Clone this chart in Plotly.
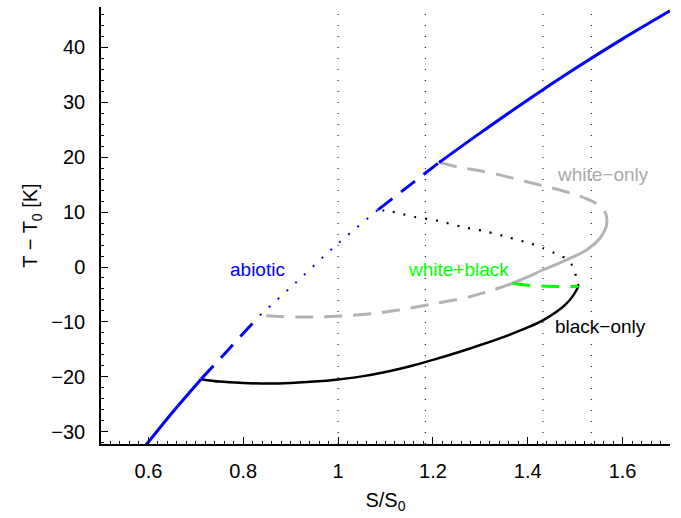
import plotly.graph_objects as go

# ---------------- data ----------------
abiotic_S = [0.59, 0.65, 0.711, 0.77, 0.835, 0.9, 1.0, 1.084, 1.15, 1.213, 1.3, 1.4, 1.5, 1.6, 1.7]
abiotic_T = [-32.9, -26.5, -20.4, -14.9, -8.8, -3.7, 4.3, 10.4, 14.8, 19.0, 24.4, 30.4, 36.1, 41.5, 46.6]
# stability of the abiotic branch between break points
abiotic_breaks = [0.59, 0.711, 0.835, 1.084, 1.213, 1.7]
abiotic_kinds = ["stable", "saddle", "unstable", "saddle", "stable"]

white_upper_S = [1.213, 1.253, 1.30, 1.334, 1.398, 1.45, 1.503, 1.535, 1.556, 1.565, 1.567]
white_upper_T = [19.0, 18.2, 17.5, 16.9, 15.5, 14.4, 13.1, 12.0, 10.9, 9.6, 8.5]
white_stable_S = [1.567, 1.566, 1.560, 1.552, 1.524, 1.482, 1.433, 1.40, 1.368]
white_stable_T = [8.5, 7.5, 6.3, 5.2, 3.1, 1.3, -0.5, -1.8, -2.95]
white_lower_S = [1.368, 1.33, 1.278, 1.208, 1.15, 1.081, 1.03, 0.983, 0.93, 0.88, 0.835]
white_lower_T = [-2.95, -4.1, -5.4, -6.6, -7.5, -8.4, -8.8, -9.0, -9.1, -9.0, -8.8]

black_stable_S = [0.711, 0.75, 0.80, 0.85, 0.90, 0.95, 1.00, 1.05, 1.10, 1.15, 1.20, 1.25, 1.30, 1.35, 1.40, 1.43, 1.46, 1.48, 1.495, 1.507]
black_stable_T = [-20.4, -20.85, -21.1, -21.2, -21.1, -20.85, -20.45, -19.9, -19.1, -18.1, -16.9, -15.6, -14.2, -12.7, -11.0, -9.8, -8.2, -6.8, -5.3, -3.5]
black_unstable_S = [1.507, 1.502, 1.496, 1.479, 1.455, 1.433, 1.408, 1.359, 1.310, 1.261, 1.211, 1.162, 1.137, 1.112, 1.084]
black_unstable_T = [-3.5, -1.8, 0.0, 1.6, 2.6, 3.4, 4.2, 5.4, 6.5, 7.3, 8.4, 9.1, 9.6, 10.1, 10.4]

mixed_S = [1.368, 1.40, 1.45, 1.507]
mixed_T = [-2.95, -3.3, -3.55, -3.5]

vline_S = [1.0, 1.184, 1.432, 1.534]

labels = ["abiotic", "white+black", "white\u2212only", "black\u2212only"]
label_S = [0.831, 1.254, 1.559, 1.554]
label_T = [-0.5, -0.4, 16.9, -10.9]

x_range = [0.5, 1.7]
y_range = [-32.2, 47.3]

# ---------------- styles ----------------
BLUE = "#0000ff"
GRAY = "#b3b3b3"
GREEN = "#00ff00"
BLACK = "#000000"
FONT = "Liberation Sans, Arial, Helvetica, sans-serif"
DASH = "18px,11px"
DOT = "2px,10px"
kind_dash = {"stable": "solid", "saddle": DASH, "unstable": DOT}

fig = go.Figure()

# reference vertical dotted lines
for s in vline_S:
    fig.add_trace(go.Scatter(x=[s, s], y=y_range, mode="lines",
                             line=dict(color=BLACK, width=1, dash="1px,10px"),
                             hoverinfo="skip", showlegend=False))

def add_curve(xs, ys, color, dash, width=2.5):
    fig.add_trace(go.Scatter(x=xs, y=ys, mode="lines",
                             line=dict(color=color, width=width, dash=dash,
                                       shape="spline", smoothing=0.8),
                             showlegend=False))

# white-only branch
add_curve(white_upper_S, white_upper_T, GRAY, DASH, 3)
add_curve(white_stable_S, white_stable_T, GRAY, "solid", 3)
add_curve(white_lower_S, white_lower_T, GRAY, DASH, 3)

# black-only branch
add_curve(black_stable_S, black_stable_T, BLACK, "solid", 2.5)
add_curve(black_unstable_S, black_unstable_T, BLACK, "2px,9px", 2.2)

# mixed branch
add_curve(mixed_S, mixed_T, GREEN, DASH, 3)

# abiotic branch, split into stability segments
for i, kind in enumerate(abiotic_kinds):
    lo, hi = abiotic_breaks[i], abiotic_breaks[i + 1]
    xs = [s for s in abiotic_S if lo - 1e-9 <= s <= hi + 1e-9]
    ys = [t for s, t in zip(abiotic_S, abiotic_T) if lo - 1e-9 <= s <= hi + 1e-9]
    add_curve(xs, ys, BLUE, kind_dash[kind], 3 if kind != "unstable" else 2)

label_colors = [BLUE, GREEN, "#aaaaaa", BLACK]
for txt, s, t, c in zip(labels, label_S, label_T, label_colors):
    fig.add_annotation(x=s, y=t, text=txt, showarrow=False,
                       font=dict(family=FONT, size=19, color=c),
                       xanchor="center", yanchor="middle")

axis_common = dict(showgrid=False, zeroline=False, showline=True,
                   linecolor=BLACK, linewidth=1.5, mirror=False,
                   ticks="inside", ticklen=7, tickwidth=1.2, tickcolor=BLACK,
                   tickfont=dict(family=FONT, size=20, color=BLACK))

fig.update_xaxes(range=x_range, tickvals=[0.6, 0.8, 1.0, 1.2, 1.4, 1.6],
                 ticktext=["0.6", "0.8", "1", "1.2", "1.4", "1.6"],
                 minor=dict(ticks="inside", ticklen=3, dtick=0.02, tickcolor=BLACK, showgrid=False),
                 ticklabelstandoff=8,
                 title=dict(text="S/S<sub>0</sub>", font=dict(family=FONT, size=20, color=BLACK), standoff=12),
                 **axis_common)
fig.update_yaxes(range=y_range, tickvals=[-30, -20, -10, 0, 10, 20, 30, 40],
                 minor=dict(ticks="inside", ticklen=3, dtick=2, tickcolor=BLACK, showgrid=False),
                 ticklabelstandoff=10,
                 title=dict(text="T \u2212 T<sub>0</sub> [K]", font=dict(family=FONT, size=20, color=BLACK), standoff=8),
                 **axis_common)

fig.update_layout(width=681, height=518, plot_bgcolor="white", paper_bgcolor="white",
                  margin=dict(l=101, r=11, t=7, b=74), showlegend=False)

fig.write_html("out.html")
